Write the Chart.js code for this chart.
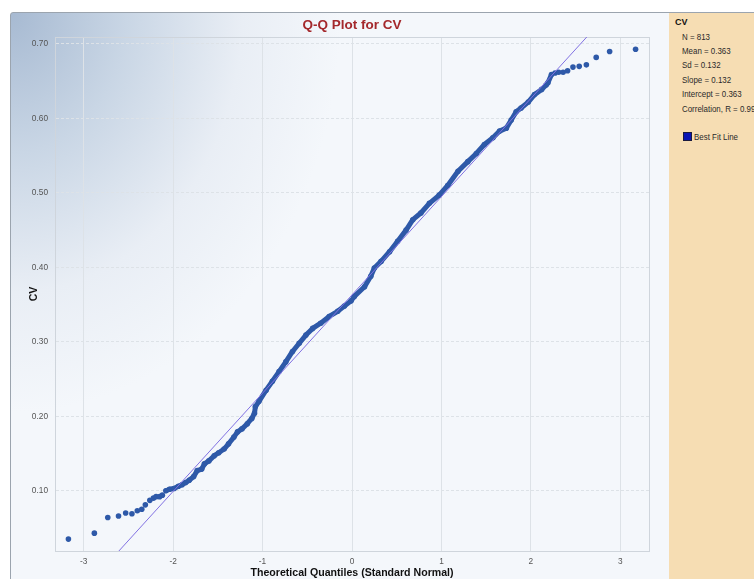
<!DOCTYPE html>
<html>
<head>
<meta charset="utf-8">
<script src="https://cdn.jsdelivr.net/npm/chart.js@4"></script>
<style>
  html, body { margin: 0; padding: 0; width: 754px; height: 579px; overflow: hidden; background: #fff; font-family: "Liberation Sans", Arial, sans-serif; }
  #frame { position: absolute; left: 10px; top: 12px; width: 660px; height: 580px; box-sizing: border-box; border: 1px solid #9ba4ae; border-radius: 3px 0 0 0;
    background: radial-gradient(ellipse 330px 400px at 0 0, #a7bad2 0%, #c9d6e5 35%, #e9eef5 70%, #f4f7fb 100%); background-color: #f4f7fb; }
  #chartBox { position: absolute; left: 10px; top: 12px; width: 659px; height: 567px; }
  #side { position: absolute; left: 669px; top: 12px; width: 85px; height: 567px; background: #f6ddb3; border-top: 1px solid #9ba4ae; color: #2a2a2a; font-size: 9px; white-space: nowrap; overflow: hidden; }
  #side div { position: absolute; line-height: 10px; transform: scaleX(0.88); transform-origin: 0 50%; }
  #side .head { left: 6px; top: 4px; font-weight: bold; font-size: 9px; color: #111; transform: none; }
  #side .sw { position: absolute; left: 14px; top: 119px; width: 7px; height: 7px; background: #0a14b4; border: 1px solid #1a1a40; }
</style>
</head>
<body>
<div id="frame"></div>
<div id="chartBox"><canvas id="qqChart" width="659" height="567"></canvas></div>
<div id="side"></div>
<script>
(function () {
  "use strict";

  const qqX = [
    -3.17, -2.88, -2.73, -2.61, -2.53, -2.46, -2.40, -2.35, -2.31, -2.26,
    -2.22, -2.19, -2.15, -2.12, -2.08, -2.04, -1.99, -1.94, -1.90, -1.86,
    -1.82, -1.77, -1.73, -1.68, -1.65, -1.60, -1.54, -1.49, -1.43, -1.38,
    -1.32, -1.28, -1.23, -1.17, -1.12, -1.09, -1.08, -1.04, -0.96, -0.89,
    -0.815, -0.74, -0.665, -0.59, -0.515, -0.44, -0.35, -0.255, -0.16, -0.085,
    -0.01, 0.026, 0.14, 0.21, 0.25, 0.325, 0.42, 0.51, 0.605, 0.68,
    0.77, 0.865, 0.975, 1.07, 1.185, 1.295, 1.39, 1.48, 1.575, 1.65,
    1.725, 1.78, 1.835, 1.89, 1.97, 2.04, 2.12, 2.17, 2.19, 2.23,
    2.27, 2.31, 2.36, 2.41, 2.47, 2.54, 2.62, 2.73, 2.88, 3.17
  ];
  const qqY = [
    0.035, 0.043, 0.064, 0.066, 0.070, 0.069, 0.073, 0.075, 0.081, 0.087,
    0.090, 0.092, 0.092, 0.094, 0.100, 0.102, 0.103, 0.106, 0.108, 0.111,
    0.114, 0.119, 0.127, 0.129, 0.136, 0.140, 0.147, 0.151, 0.156, 0.163,
    0.172, 0.179, 0.183, 0.190, 0.197, 0.204, 0.213, 0.220, 0.235, 0.247,
    0.260, 0.273, 0.287, 0.298, 0.309, 0.318, 0.325, 0.334, 0.341, 0.348,
    0.355, 0.361, 0.374, 0.388, 0.399, 0.408, 0.421, 0.435, 0.450, 0.464,
    0.473, 0.486, 0.497, 0.510, 0.529, 0.542, 0.553, 0.565, 0.574, 0.583,
    0.587, 0.598, 0.609, 0.614, 0.622, 0.632, 0.639, 0.645, 0.648, 0.659,
    0.661, 0.662, 0.662, 0.664, 0.669, 0.670, 0.672, 0.682, 0.690, 0.693
  ];

  const fitSlope = 0.132;
  const fitIntercept = 0.363;
  const fitX = [-3.32, 3.32];

  const xTicks = [-3, -2, -1, 0, 1, 2, 3];
  const yTicks = [0.10, 0.20, 0.30, 0.40, 0.50, 0.60, 0.70];

  const chartTitle = "Q-Q Plot for CV";
  const xTitle = "Theoretical Quantiles (Standard Normal)";
  const yTitle = "CV";

  const statsTitle = "CV";
  const statsLines = [
    "N = 813",
    "Mean = 0.363",
    "Sd = 0.132",
    "Slope = 0.132",
    "Intercept = 0.363",
    "Correlation, R = 0.997"
  ];
  const legendLabel = "Best Fit Line";

  // Side panel
  const side = document.getElementById("side");
  const head = document.createElement("div");
  head.className = "head";
  head.textContent = statsTitle;
  side.appendChild(head);
  statsLines.forEach((txt, i) => {
    const d = document.createElement("div");
    d.style.left = "13px";
    d.style.top = (18.5 + i * 14.4) + "px";
    d.textContent = txt;
    side.appendChild(d);
  });
  const sw = document.createElement("span");
  sw.className = "sw";
  side.appendChild(sw);
  const lg = document.createElement("div");
  lg.style.left = "25px";
  lg.style.top = "119px";
  lg.textContent = legendLabel;
  side.appendChild(lg);

  const pointColor = "#2e59a8";
  const tickFont = { family: "'Liberation Sans', Arial, sans-serif", size: 8.3 };

  const titlePlugin = {
    id: "qqTitle",
    beforeDatasetsDraw(chart) {
      const { ctx, chartArea } = chart;
      ctx.save();
      ctx.strokeStyle = "#cfd5dc";
      ctx.lineWidth = 1;
      ctx.strokeRect(chartArea.left + 0.5, chartArea.top + 0.5, chartArea.right - chartArea.left, chartArea.bottom - chartArea.top);
      ctx.restore();
    },
    afterDraw(chart) {
      const { ctx, chartArea } = chart;
      ctx.save();
      ctx.font = "bold 13.5px 'Liberation Sans', Arial, sans-serif";
      ctx.fillStyle = "#a4282c";
      ctx.textAlign = "center";
      ctx.textBaseline = "middle";
      ctx.fillText(chartTitle, (chartArea.left + chartArea.right) / 2, 13.5);
      ctx.restore();
    }
  };

  new Chart(document.getElementById("qqChart"), {
    type: "scatter",
    data: {
      datasets: [
        {
          label: "Observed",
          data: qqX.map((x, i) => ({ x: x, y: qqY[i] })),
          showLine: true,
          borderWidth: 5,
          borderColor: pointColor,
          borderCapStyle: "round",
          borderJoinStyle: "round",
          segment: {
            borderColor: (ctx) =>
              ctx.p0.parsed.x < -2.1 || ctx.p1.parsed.x > 2.25 ? "rgba(0,0,0,0)" : pointColor,
          },
          pointRadius: 2.8,
          pointBorderWidth: 0,
          pointBackgroundColor: pointColor,
          order: 2,
        },
        {
          label: legendLabel,
          data: fitX.map((x) => ({ x: x, y: fitIntercept + fitSlope * x })),
          showLine: true,
          borderColor: "#8171e2",
          borderWidth: 1,
          pointRadius: 0,
          order: 1,
        },
      ],
    },
    options: {
      responsive: false,
      animation: false,
      layout: { padding: { top: 25, right: 20, left: 0, bottom: 0 } },
      plugins: {
        legend: { display: false },
        tooltip: { enabled: false },
      },
      scales: {
        x: {
          type: "linear",
          min: -3.32,
          max: 3.32,
          afterBuildTicks: (s) => { s.ticks = xTicks.map((v) => ({ value: v })); },
          afterFit: (s) => { s.height = 28; },
          ticks: { font: tickFont, color: "#555", padding: 6, callback: (v) => String(v) },
          grid: { color: "#dde2e7", drawTicks: false },
          border: { display: true, color: "#cfd5db" },
          title: {
            display: true,
            text: xTitle,
            color: "#111",
            padding: 0,
            font: { family: "'Liberation Sans', Arial, sans-serif", size: 10.6, weight: "bold" },
          },
        },
        y: {
          type: "linear",
          min: 0.019,
          max: 0.7094,
          afterBuildTicks: (s) => { s.ticks = yTicks.map((v) => ({ value: v })); },
          afterFit: (s) => { s.width = 45; },
          ticks: { font: tickFont, color: "#555", padding: 7, callback: (v) => Number(v).toFixed(2) },
          grid: { color: "#dde2e7", drawTicks: false },
          border: { display: true, color: "#aeb5be", dash: [3, 2] },
          title: {
            display: true,
            text: yTitle,
            color: "#111",
            padding: { top: 17.6, bottom: 0 },
            font: { family: "'Liberation Sans', Arial, sans-serif", size: 10.6, weight: "bold" },
          },
        },
      },
    },
    plugins: [titlePlugin],
  });
})();
</script>
</body>
</html>
